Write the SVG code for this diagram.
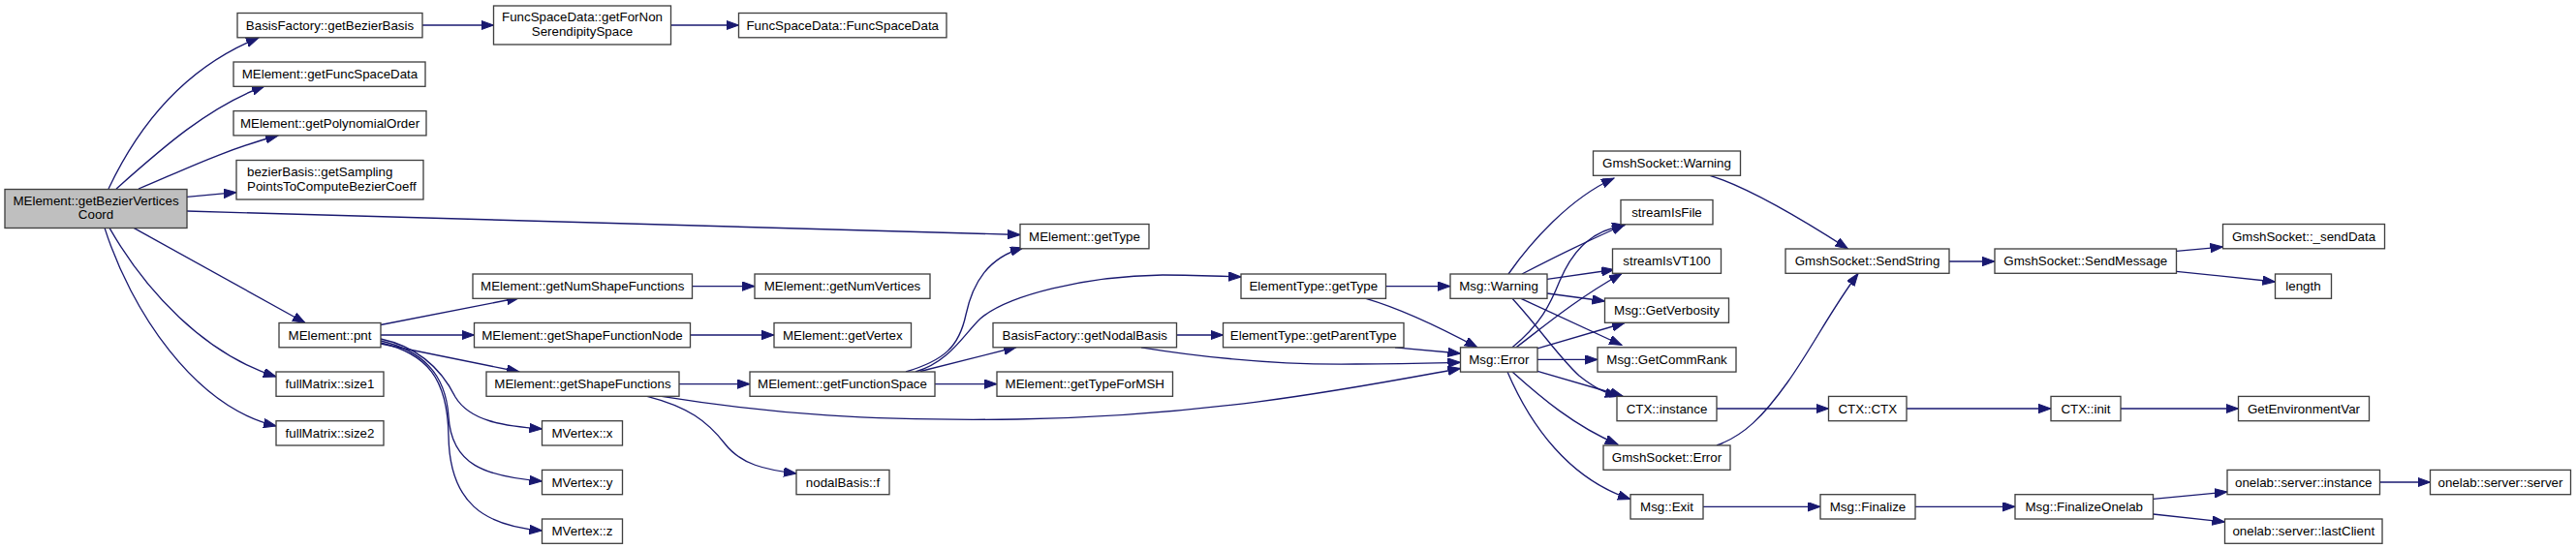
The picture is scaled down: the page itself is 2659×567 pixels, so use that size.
<svg xmlns="http://www.w3.org/2000/svg" width="2659" height="567" viewBox="0 0 2659 567">
<defs>
<style>
.n rect{fill:#ffffff;stroke:#404040;stroke-width:1.33}
.root rect{fill:#bfbfbf}
.n text{font-family:"Liberation Sans",Arial,Helvetica,sans-serif;font-size:13.33px;fill:#000;text-anchor:middle}
.n text.l{text-anchor:start}
.e path{fill:none;stroke:#191970;stroke-width:1.33;marker-end:url(#ah)}
</style>
<marker id="ah" markerUnits="userSpaceOnUse" markerWidth="14" markerHeight="10" refX="13" refY="4.7" orient="auto">
<path d="M0,0 L13,4.7 L0,9.4 z" fill="#191970" stroke="#191970" stroke-width="1"/>
</marker>
</defs>
<rect width="2659" height="567" fill="#ffffff"/>
<g id="edges" class="e">
<path d="M112,195 C145,125 195,68 267,39"/>
<path d="M120,195 C165,155 215,110 273,89"/>
<path d="M143,195 C180,180 230,155 287,140"/>
<path d="M193,203.3 L244,198.7"/>
<path d="M193,218 L1053,242.5"/>
<path d="M138,235.4 L315,333.5"/>
<path d="M113,235.4 C150,300 210,365 285,389"/>
<path d="M108,235.4 C135,320 200,420 285,440"/>
<path d="M436,26 L509.5,26"/>
<path d="M692.5,26 L762.5,26"/>
<path d="M393,335.5 L536,307.5"/>
<path d="M393,346 L489.5,346"/>
<path d="M393,355 L536,384"/>
<path d="M393,350 C430,358 455,380 470,410 C485,435 520,440 559.5,443"/>
<path d="M393,352 C435,362 460,385 463,430 C466,480 500,492 559.5,497"/>
<path d="M393,354 C440,365 462,390 463,450 C464,520 500,543 559.5,548"/>
<path d="M714.5,295.6 L779,295.6"/>
<path d="M712.5,346 L799,346"/>
<path d="M701,396.6 L774,396.6"/>
<path d="M668,409.3 C710,420 730,435 748,458 C765,480 790,485 822,489"/>
<path d="M683,409.3 C800,428 900,435 1050,433 C1250,430 1400,400 1507.5,380.5"/>
<path d="M935,384 C975,372 990,358 997,325 C1004,292 1020,266 1056,256"/>
<path d="M945,384 C980,374 995,345 1012,329 C1040,305 1120,285 1200,284 C1230,284 1255,285 1281,286"/>
<path d="M950,383.5 L1049,358.5"/>
<path d="M965,396.6 L1029,396.6"/>
<path d="M1430.5,295.6 L1497,295.6"/>
<path d="M1410,308.3 C1450,320 1490,340 1525,358.8"/>
<path d="M1214.5,346 L1262.5,346"/>
<path d="M1178,358.8 C1260,372 1330,377 1400,376 C1450,376 1480,375 1507.5,374.3"/>
<path d="M1440,358.8 L1507.5,365"/>
<path d="M1557,283 C1580,250 1620,205 1666,184"/>
<path d="M1571,283 C1600,268 1640,248 1677,232"/>
<path d="M1597,288.3 L1666,278.5"/>
<path d="M1597,303 L1656.5,311"/>
<path d="M1570,308.3 L1674,356.5"/>
<path d="M1561,308.3 C1590,340 1610,370 1630,388 C1645,400 1655,405 1670,409.4"/>
<path d="M1561,358.8 C1590,335 1600,315 1610,290 C1625,255 1645,238 1677,232.5"/>
<path d="M1565,358.8 C1590,340 1625,310 1674,282.5"/>
<path d="M1587,359.8 L1677,333.5"/>
<path d="M1587,371.4 L1649,371.4"/>
<path d="M1587,383.4 L1675,409"/>
<path d="M1561,384 C1590,410 1625,440 1670,459"/>
<path d="M1556,384 C1580,440 1620,495 1683,515.5"/>
<path d="M1765,181.3 C1800,192 1850,220 1907.5,257"/>
<path d="M1772,460 C1800,450 1820,430 1845,395 C1870,360 1890,320 1918,282.5"/>
<path d="M2012,270 L2059,270"/>
<path d="M2246.5,259.3 L2294.5,255"/>
<path d="M2246.5,280.3 L2348.5,291"/>
<path d="M1772,422 L1887.5,422"/>
<path d="M1968,422 L2117,422"/>
<path d="M2189,422 L2310.5,422"/>
<path d="M1758,523.3 L1879,523.3"/>
<path d="M1977,523.3 L2080,523.3"/>
<path d="M2222.5,515.4 L2299,508"/>
<path d="M2222.5,531 L2296.5,539"/>
<path d="M2456.5,498 L2508.5,498"/>
</g>
<g id="n_root" class="n root"><rect x="5" y="195.5" width="188" height="40"/><text x="99" y="211.5">MElement::getBezierVertices</text><text x="99" y="226">Coord</text></g>
<g id="n_getBezierBasis" class="n"><rect x="245" y="13.5" width="191" height="25.3"/><text x="340.5" y="30.7">BasisFactory::getBezierBasis</text></g>
<g id="n_getFuncSpaceData" class="n"><rect x="241" y="64" width="198" height="25.3"/><text x="340.5" y="81.2">MElement::getFuncSpaceData</text></g>
<g id="n_getPolynomialOrder" class="n"><rect x="241" y="114.6" width="199" height="25.3"/><text x="340.5" y="131.8">MElement::getPolynomialOrder</text></g>
<g id="n_bezierSampling" class="n"><rect x="244" y="165.5" width="193" height="40.5"/><text class="l" x="255" y="182.3">bezierBasis::getSampling</text><text class="l" x="255" y="197.3">PointsToComputeBezierCoeff</text></g>
<g id="n_pnt" class="n"><rect x="288" y="333.5" width="105" height="25.3"/><text x="340.5" y="350.7">MElement::pnt</text></g>
<g id="n_size1" class="n"><rect x="285" y="384" width="111" height="25.3"/><text x="340.5" y="401.2">fullMatrix::size1</text></g>
<g id="n_size2" class="n"><rect x="285" y="434.7" width="111" height="25.3"/><text x="340.5" y="451.9">fullMatrix::size2</text></g>
<g id="n_getForNonSerendipitySpace" class="n"><rect x="509.5" y="6" width="183" height="40"/><text x="601" y="22">FuncSpaceData::getForNon</text><text x="601" y="37">SerendipitySpace</text></g>
<g id="n_FuncSpaceData" class="n"><rect x="762.5" y="13.5" width="214.5" height="25.3"/><text x="869.75" y="30.7">FuncSpaceData::FuncSpaceData</text></g>
<g id="n_getNumShapeFunctions" class="n"><rect x="488" y="283" width="226.5" height="25.3"/><text x="601.25" y="300.2">MElement::getNumShapeFunctions</text></g>
<g id="n_getShapeFunctionNode" class="n"><rect x="489.5" y="333.5" width="223" height="25.3"/><text x="601" y="350.7">MElement::getShapeFunctionNode</text></g>
<g id="n_getShapeFunctions" class="n"><rect x="502" y="384" width="199" height="25.3"/><text x="601.5" y="401.2">MElement::getShapeFunctions</text></g>
<g id="n_MVertex_x" class="n"><rect x="559.5" y="434.7" width="83" height="25.3"/><text x="601" y="451.9">MVertex::x</text></g>
<g id="n_MVertex_y" class="n"><rect x="559.5" y="485.4" width="83" height="25.3"/><text x="601" y="502.6">MVertex::y</text></g>
<g id="n_MVertex_z" class="n"><rect x="559.5" y="536" width="83" height="25.3"/><text x="601" y="553.2">MVertex::z</text></g>
<g id="n_getNumVertices" class="n"><rect x="779" y="283" width="181" height="25.3"/><text x="869.5" y="300.2">MElement::getNumVertices</text></g>
<g id="n_getVertex" class="n"><rect x="799" y="333.5" width="141.5" height="25.3"/><text x="869.75" y="350.7">MElement::getVertex</text></g>
<g id="n_getFunctionSpace" class="n"><rect x="774" y="384" width="191" height="25.3"/><text x="869.5" y="401.2">MElement::getFunctionSpace</text></g>
<g id="n_nodalBasis_f" class="n"><rect x="822" y="485.4" width="96" height="25.3"/><text x="870" y="502.6">nodalBasis::f</text></g>
<g id="n_MElement_getType" class="n"><rect x="1053" y="231.5" width="133" height="25.3"/><text x="1119.5" y="248.7">MElement::getType</text></g>
<g id="n_ElementType_getType" class="n"><rect x="1281" y="283" width="149.5" height="25.3"/><text x="1355.75" y="300.2">ElementType::getType</text></g>
<g id="n_getNodalBasis" class="n"><rect x="1025" y="333.5" width="189.5" height="25.3"/><text x="1119.75" y="350.7">BasisFactory::getNodalBasis</text></g>
<g id="n_getParentType" class="n"><rect x="1262.5" y="333.5" width="186.5" height="25.3"/><text x="1355.75" y="350.7">ElementType::getParentType</text></g>
<g id="n_getTypeForMSH" class="n"><rect x="1029" y="384" width="181.5" height="25.3"/><text x="1119.75" y="401.2">MElement::getTypeForMSH</text></g>
<g id="n_Msg_Warning" class="n"><rect x="1497" y="283" width="100" height="25.3"/><text x="1547" y="300.2">Msg::Warning</text></g>
<g id="n_Msg_Error" class="n"><rect x="1507.5" y="358.8" width="79.5" height="25.3"/><text x="1547.25" y="376">Msg::Error</text></g>
<g id="n_GmshSocket_Warning" class="n"><rect x="1644.5" y="156" width="152" height="25.3"/><text x="1720.5" y="173.2">GmshSocket::Warning</text></g>
<g id="n_streamIsFile" class="n"><rect x="1673" y="206.5" width="95" height="25.3"/><text x="1720.5" y="223.7">streamIsFile</text></g>
<g id="n_streamIsVT100" class="n"><rect x="1664.5" y="257" width="112" height="25.3"/><text x="1720.5" y="274.2">streamIsVT100</text></g>
<g id="n_GetVerbosity" class="n"><rect x="1656.5" y="308" width="128" height="25.3"/><text x="1720.5" y="325.2">Msg::GetVerbosity</text></g>
<g id="n_GetCommRank" class="n"><rect x="1649" y="358.8" width="143" height="25.3"/><text x="1720.5" y="376">Msg::GetCommRank</text></g>
<g id="n_CTX_instance" class="n"><rect x="1669" y="409.4" width="103" height="25.3"/><text x="1720.5" y="426.6">CTX::instance</text></g>
<g id="n_GmshSocket_Error" class="n"><rect x="1655" y="460" width="131" height="25.3"/><text x="1720.5" y="477.2">GmshSocket::Error</text></g>
<g id="n_Msg_Exit" class="n"><rect x="1683" y="510.7" width="75" height="25.3"/><text x="1720.5" y="527.9">Msg::Exit</text></g>
<g id="n_SendString" class="n"><rect x="1843" y="257" width="169" height="25.3"/><text x="1927.5" y="274.2">GmshSocket::SendString</text></g>
<g id="n_CTX_CTX" class="n"><rect x="1887.5" y="409.4" width="80.5" height="25.3"/><text x="1927.75" y="426.6">CTX::CTX</text></g>
<g id="n_Msg_Finalize" class="n"><rect x="1879" y="510.7" width="98" height="25.3"/><text x="1928" y="527.9">Msg::Finalize</text></g>
<g id="n_SendMessage" class="n"><rect x="2059" y="257" width="187.5" height="25.3"/><text x="2152.75" y="274.2">GmshSocket::SendMessage</text></g>
<g id="n_CTX_init" class="n"><rect x="2117" y="409.4" width="72" height="25.3"/><text x="2153" y="426.6">CTX::init</text></g>
<g id="n_FinalizeOnelab" class="n"><rect x="2080" y="510.7" width="142.5" height="25.3"/><text x="2151.25" y="527.9">Msg::FinalizeOnelab</text></g>
<g id="n_sendData" class="n"><rect x="2294.5" y="231.5" width="167" height="25.3"/><text x="2378" y="248.7">GmshSocket::_sendData</text></g>
<g id="n_length" class="n"><rect x="2348.5" y="283" width="58" height="25.3"/><text x="2377.5" y="300.2">length</text></g>
<g id="n_GetEnvironmentVar" class="n"><rect x="2310.5" y="409.4" width="135" height="25.3"/><text x="2378" y="426.6">GetEnvironmentVar</text></g>
<g id="n_server_instance" class="n"><rect x="2299" y="485.4" width="157.5" height="25.3"/><text x="2377.75" y="502.6">onelab::server::instance</text></g>
<g id="n_server_server" class="n"><rect x="2508.5" y="485.4" width="145" height="25.3"/><text x="2581" y="502.6">onelab::server::server</text></g>
<g id="n_lastClient" class="n"><rect x="2296.5" y="536" width="162.5" height="25.3"/><text x="2377.75" y="553.2">onelab::server::lastClient</text></g>
</svg>
